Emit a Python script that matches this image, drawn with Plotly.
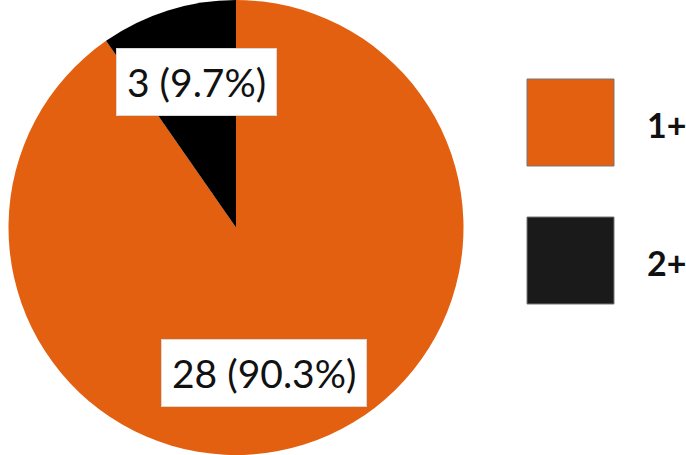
import plotly.graph_objects as go

labels = ["1+", "2+"]
values = [28, 3]
colors = ["#E2600F", "#000000"]
legend_colors = ["#E2600F", "#1A1A1A"]

W, H = 686, 455
total = sum(values)
texts = [f"{v} ({v / total * 100:.1f}%)" for v in values]

fig = go.Figure(go.Pie(
    labels=labels, values=values, sort=False, direction="clockwise",
    marker=dict(colors=colors, line=dict(width=0)),
    textinfo="none", hoverinfo="label+value+percent", showlegend=False,
    domain=dict(x=[8 / W, 464 / W], y=[0, 1]),
))

# value labels (white boxes)
label_pos = [(264, 373), (196, 82)]
for t, (px, py) in zip(texts, label_pos):
    fig.add_annotation(x=px / W, y=1 - py / H, xref="paper", yref="paper",
                       xanchor="center", yanchor="middle",
                       text=t, showarrow=False, bgcolor="white",
                       bordercolor="#d8d8d8", borderwidth=1, borderpad=10,
                       font=dict(family="Lato", size=39, color="#111111"))

# manual legend
sq = [(527, 79, 614, 166), (527, 217, 614, 304)]
for lab, c, (x0, y0, x1, y1) in zip(labels, legend_colors, sq):
    fig.add_shape(type="rect", xref="paper", yref="paper",
                  x0=x0 / W, x1=x1 / W, y0=1 - y0 / H, y1=1 - y1 / H,
                  fillcolor=c, line=dict(color="#777777", width=1))
    fig.add_annotation(x=645 / W, y=1 - ((y0 + y1) / 2 + 2) / H, xref="paper", yref="paper",
                       text=f"<b>{lab}</b>", showarrow=False, xanchor="left", yanchor="middle",
                       font=dict(family="Lato", size=34, color="#111111"))

fig.update_layout(width=W, height=H, margin=dict(l=0, r=0, t=0, b=0),
                  paper_bgcolor="white", plot_bgcolor="white")
fig.write_html("out.html")
